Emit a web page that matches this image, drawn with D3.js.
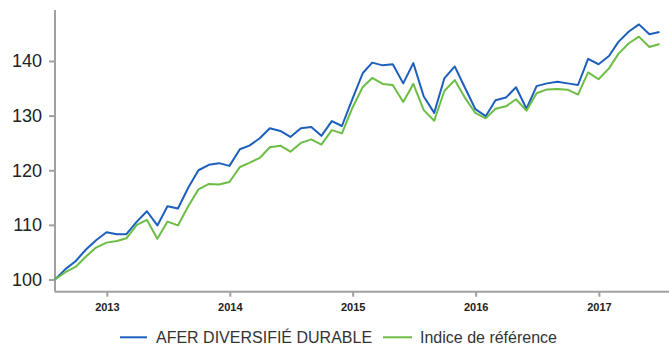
<!DOCTYPE html>
<html>
<head>
<meta charset="utf-8">
<script src="https://cdn.jsdelivr.net/npm/d3@7"></script>
<style>
  html, body { margin: 0; padding: 0; background: #fff; }
  svg { display: block; font-family: "Liberation Sans", Arial, sans-serif; }
</style>
</head>
<body>
<svg id="chart" width="669" height="345"></svg>
<script>
// Monthly closing dates, end of July 2012 to end of June 2017
const startMonth = new Date(2012, 6, 31);
const months = d3.range(60).map(i => new Date(2012, 7 + i, 0));

const seriesNames = ["AFER DIVERSIFIÉ DURABLE", "Indice de référence"];

const fundValues = [
  100.0, 101.9, 103.35, 105.5, 107.2, 108.65, 108.3, 108.3, 110.6, 112.5,
  109.9, 113.4, 113.0, 116.85, 120.0, 121.0, 121.3, 120.8, 123.85, 124.5,
  125.85, 127.7, 127.2, 126.1, 127.7, 127.9, 126.3, 129.0, 128.1, 133.0,
  137.8, 139.7, 139.2, 139.4, 135.9, 139.6, 133.5, 130.5, 136.8, 139.0,
  135.15, 131.2, 129.9, 132.8, 133.3, 135.2, 131.25, 135.4, 135.9, 136.2,
  135.9, 135.6, 140.4, 139.4, 140.9, 143.5, 145.4, 146.7, 144.9, 145.3
];

const benchmarkValues = [
  100.0, 101.35, 102.3, 104.2, 105.85, 106.75, 107.05, 107.55, 110.0, 110.9,
  107.45, 110.6, 109.9, 113.45, 116.5, 117.5, 117.4, 117.85, 120.6, 121.35,
  122.25, 124.2, 124.5, 123.4, 125.0, 125.65, 124.7, 127.35, 126.75, 131.4,
  135.25, 136.9, 135.8, 135.6, 132.5, 135.8, 131.0, 129.05, 134.5, 136.5,
  133.3, 130.5, 129.5, 131.25, 131.7, 133.0, 130.9, 134.1, 134.8, 134.85,
  134.75, 133.85, 137.9, 136.65, 138.65, 141.3, 143.25, 144.45, 142.55, 143.1
];

const yTicks = [100, 110, 120, 130, 140];
const xTickYears = [2013, 2014, 2015, 2016, 2017];
const colors = ["#1c5fbd", "#6cbd45"];

const svg = d3.select("#chart");
const axisColor = "#a0a0a0";

const plotLeft = 55, plotBottom = 291.7, plotTop = 10;
const lastMonth = months[months.length - 1];

const x = d3.scaleTime()
  .domain([startMonth, lastMonth])
  .range([plotLeft, 659.5]);

const y = d3.scaleLinear()
  .domain([97.77, 149.33])
  .range([plotBottom, plotTop]);

// x axis
const xAxis = d3.axisBottom(x)
  .tickValues(xTickYears.map(yr => new Date(yr, 0, 1)))
  .tickFormat(d3.timeFormat("%Y"))
  .tickSize(5)
  .tickSizeOuter(0);

const gx = svg.append("g")
  .attr("transform", `translate(0,${plotBottom})`)
  .call(xAxis);
gx.select(".domain").attr("d", `M${plotLeft},0H669`)
  .attr("stroke", axisColor).attr("stroke-width", 2);
gx.selectAll(".tick line").attr("stroke", axisColor).attr("stroke-width", 2);
gx.selectAll(".tick text")
  .attr("dy", null).attr("y", 19)
  .attr("fill", "#222")
  .style("font-size", "11px")
  .style("font-weight", "bold");

// y axis
const yAxis = d3.axisLeft(y)
  .tickValues(yTicks)
  .tickSize(6)
  .tickSizeOuter(0)
  .tickPadding(7);

const gy = svg.append("g")
  .attr("transform", `translate(${plotLeft},0)`)
  .call(yAxis);
gy.select(".domain").attr("d", `M0,${plotTop}V${plotBottom}`)
  .attr("stroke", axisColor).attr("stroke-width", 2);
gy.selectAll(".tick line").attr("stroke", axisColor).attr("stroke-width", 2);
gy.selectAll(".tick text")
  .attr("fill", "#222")
  .style("font-size", "18px");

// lines
const line = d3.line()
  .x((d, i) => x(months[i]))
  .y(d => y(d));

[fundValues, benchmarkValues].forEach((vals, k) => {
  svg.append("path")
    .datum(vals)
    .attr("fill", "none")
    .attr("stroke", colors[k])
    .attr("stroke-width", 2)
    .attr("stroke-linejoin", "round")
    .attr("d", line);
});

// legend
const legendY = 337.3;
const legendItems = [
  { x1: 120, x2: 147, tx: 156 },
  { x1: 383, x2: 412, tx: 420 }
];
legendItems.forEach((it, k) => {
  svg.append("line")
    .attr("x1", it.x1).attr("x2", it.x2)
    .attr("y1", legendY).attr("y2", legendY)
    .attr("stroke", colors[k]).attr("stroke-width", 2);
  svg.append("text")
    .attr("x", it.tx).attr("y", legendY + 6)
    .attr("fill", "#333")
    .style("font-size", "16px")
    .text(seriesNames[k]);
});
</script>
</body>
</html>
